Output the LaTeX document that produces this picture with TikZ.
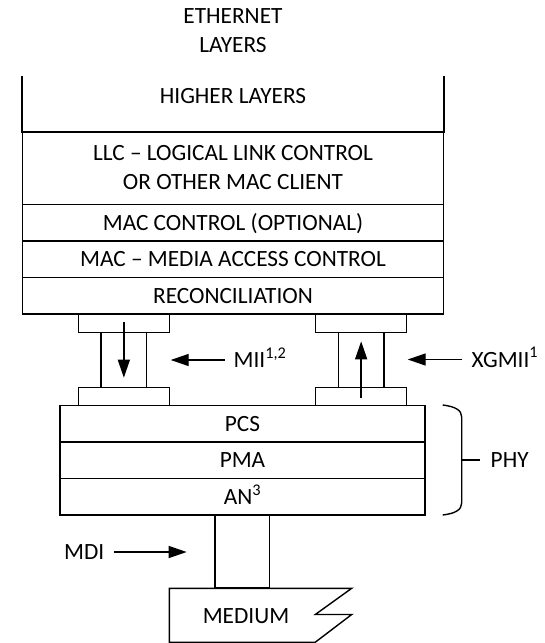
\documentclass[tikz,border=0pt]{standalone}
\usepackage{fontspec}
\setmainfont{Carlito}
\usetikzlibrary{arrows.meta,calc}

\begin{document}
\begin{tikzpicture}[x=1pt,y=-1pt,line width=1.4pt,
  every node/.style={font=\fontsize{23.3}{29}\selectfont,inner sep=0pt},
  box/.style={draw,minimum width=#1},
  captext/.style={text height=15pt,text depth=0pt},
  arr/.style={-{Triangle[length=18pt,width=12pt]}}]
\useasboundingbox (0,0) rectangle (544,643);

% title
\node[align=center] (title) at (233,31) {ETHERNET\\LAYERS};

% upper stack (open at the top)
\node[minimum width=420.6,minimum height=54.7] (hl) at (233,104.35) {};
\draw (hl.north west) -- (hl.south west) -- (hl.south east) -- (hl.north east);
\node[captext] (hlt) at (233,96) {HIGHER LAYERS};
\node[box=420.6,minimum height=72.6,align=center] (llc) at (233,168)
  {LLC – LOGICAL LINK CONTROL\\OR OTHER MAC CLIENT};
\node[box=420.6,minimum height=36.7,captext] (macc) at (233,222.65) {MAC CONTROL (OPTIONAL)};
\node[box=420.6,minimum height=36.3,captext] (mac) at (233,259.15) {MAC – MEDIA ACCESS CONTROL};
\node[box=420.6,minimum height=36.7,captext] (rec) at (233,295.65) {RECONCILIATION};

% media independent interfaces
\node[box=91,minimum height=18.3] (lpu) at (123.8,323.15) {};
\node[box=45.7,minimum height=55] (lcol) at (123.85,359.8) {};
\node[box=91,minimum height=18] (lpl) at (123.8,396.3) {};
\node[box=91.4,minimum height=18.3] (rpu) at (361,323.15) {};
\node[box=45.7,minimum height=55] (rcol) at (361.15,359.8) {};
\node[box=91.4,minimum height=18] (rpl) at (361,396.3) {};
\draw[arr] ([yshift=9.3pt]lcol.north) -- ([yshift=10.3pt]lcol.south);
\draw[arr] ([yshift=-9.7pt]rcol.south) -- ([yshift=-9.7pt]rcol.north);

\node[captext,anchor=west] (mii) at (233,360) {MII\textsuperscript{1,2}};
\coordinate (miitip) at (170.7,360);
\draw[arr] ([xshift=-8pt]mii.west) -- (miitip);
\node[captext,anchor=west] (xgmii) at (471,359.5) {XGMII\textsuperscript{1}};
\coordinate (xgtip) at (407.7,359.5);
\draw[arr] ([xshift=-9pt]xgmii.west) -- (xgtip);

% PHY stack
\node[box=365,minimum height=36.7,captext] (pcs) at (242.5,423.65) {PCS};
\node[box=365,minimum height=36.7,captext] (pma) at (242.5,460.35) {PMA};
\node[box=365,minimum height=36.3,captext] (an) at (242.5,496.85) {AN\textsuperscript{3}};

% PHY brace
\draw (442.7,405) .. controls (455,406.5) and (461.7,410) .. (461.7,417)
  -- (461.7,503) .. controls (461.7,510) and (455,513.5) .. (442.7,515);
\coordinate (bm) at (461.7,460);
\node[captext,anchor=west] (phy) at (490,460) {PHY};
\draw (bm) -- ([xshift=-10pt]phy.west);

% medium dependent interface and medium
\node[box=54.3,minimum height=72.7] (mdicol) at (242.15,551.35) {};
\node[captext,anchor=east] (mdi) at (105,552) {MDI};
\coordinate (mditip) at (186.7,552);
\draw[arr] ([xshift=9pt]mdi.east) -- (mditip);

\draw (169.3,642.2) -- (169.3,588.3) -- (351.7,588.3) -- (315.3,614.5)
  -- (351.7,614.5) -- (315.3,642.2) -- cycle;
\node[captext] (medium) at (246,616) {MEDIUM};
\end{tikzpicture}
\end{document}
